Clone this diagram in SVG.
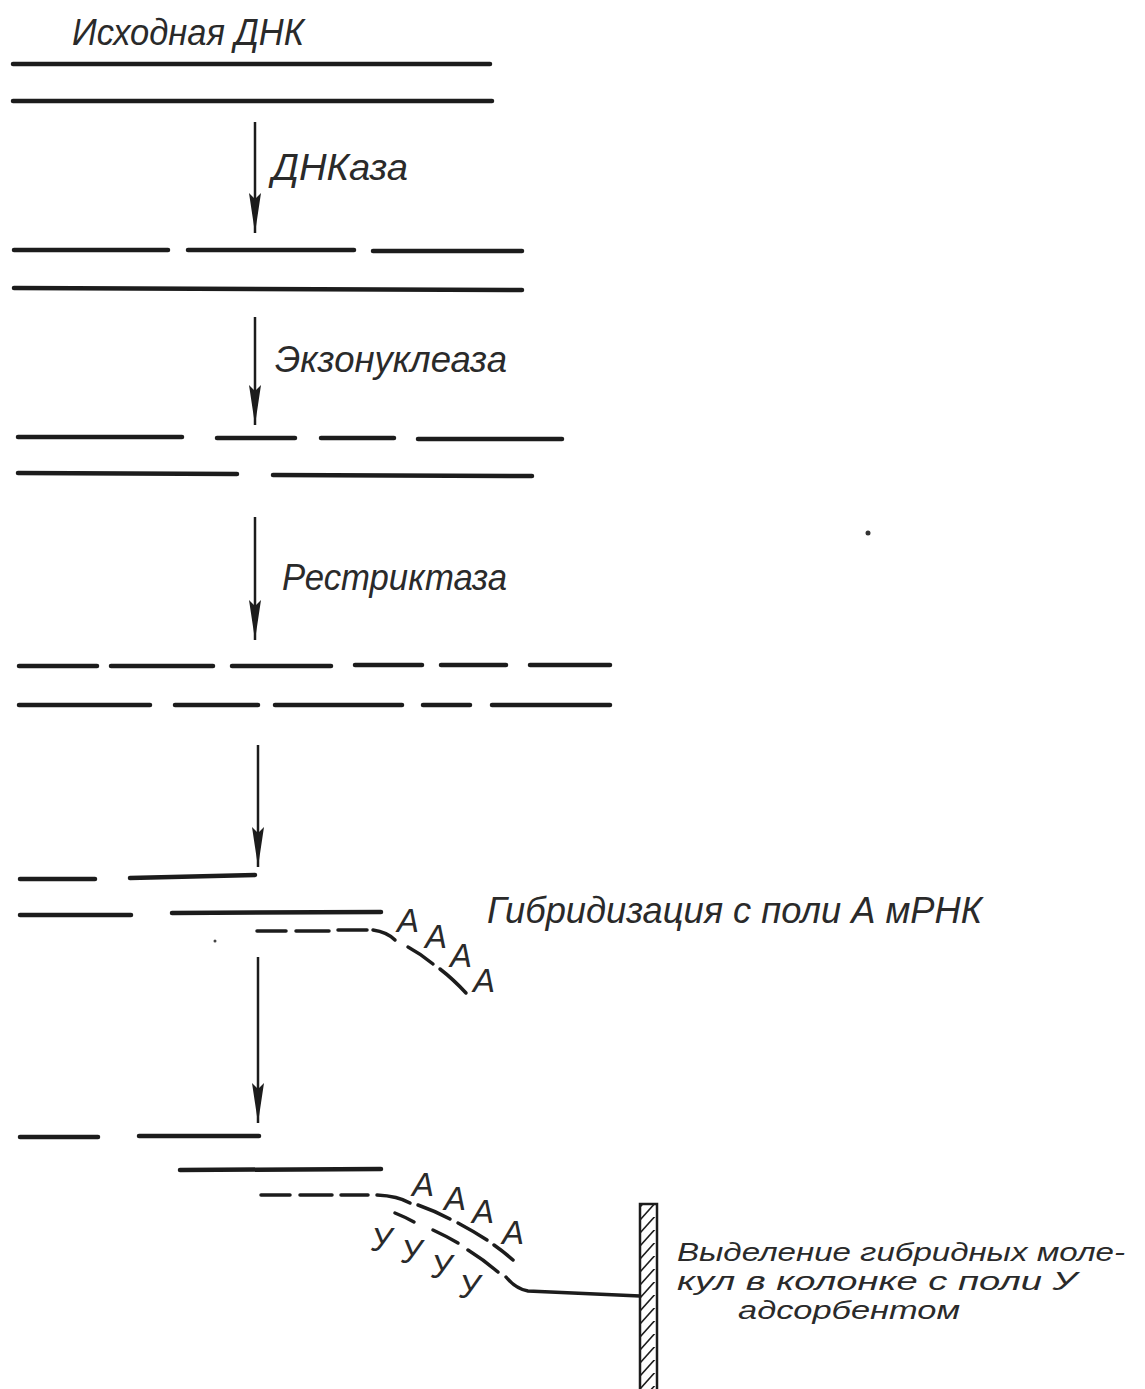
<svg xmlns="http://www.w3.org/2000/svg" width="1145" height="1389" viewBox="0 0 1145 1389">
<defs>
<style>
.dna{stroke:#1c1c1c;stroke-width:4.5;stroke-linecap:round;fill:none}
.rna{stroke:#1c1c1c;stroke-width:3.5;stroke-linecap:round;fill:none}
.arr{stroke:#1c1c1c;stroke-width:2.5;fill:none}
.lbl{font-family:"Liberation Sans","DejaVu Sans",sans-serif;font-style:italic;font-size:36px;fill:#2a2a2a}
.lbl2{font-family:"Liberation Sans","DejaVu Sans",sans-serif;font-style:italic;font-size:26px;fill:#2a2a2a}
.base{font-family:"Liberation Sans","DejaVu Sans",sans-serif;font-style:italic;font-size:33px;fill:#2a2a2a}
.hatch{stroke:#1c1c1c;stroke-width:1.6}
</style>
<marker id="ah" viewBox="0 0 40 12" markerWidth="40" markerHeight="12" markerUnits="userSpaceOnUse" refX="40" refY="6" orient="auto">
<path d="M0,0 L40,6 L0,12 L6,6 Z" fill="#1c1c1c"/>
</marker>
<pattern id="hp" patternUnits="userSpaceOnUse" width="17" height="13" x="640" y="1204">
<line class="hatch" x1="0" y1="16" x2="17" y2="-3"/>
<line class="hatch" x1="0" y1="3" x2="17" y2="-16"/>
</pattern>
</defs>
<rect width="1145" height="1389" fill="#ffffff"/>

<g id="connectors">
<line class="arr" x1="255" y1="122" x2="255" y2="233" marker-end="url(#ah)"/>
<line class="arr" x1="255" y1="317" x2="255" y2="425" marker-end="url(#ah)"/>
<line class="arr" x1="255" y1="517" x2="255" y2="640" marker-end="url(#ah)"/>
<line class="arr" x1="258" y1="745" x2="258" y2="867" marker-end="url(#ah)"/>
<line class="arr" x1="258" y1="957" x2="258" y2="1123" marker-end="url(#ah)"/>
</g>

<g id="label-dnase"><text class="lbl" x="272" y="180" textLength="136" lengthAdjust="spacingAndGlyphs">ДНКаза</text></g>
<g id="label-exo"><text class="lbl" x="275" y="372" textLength="232" lengthAdjust="spacingAndGlyphs">Экзонуклеаза</text></g>
<g id="label-restr"><text class="lbl" x="282" y="590" textLength="225" lengthAdjust="spacingAndGlyphs">Рестриктаза</text></g>

<g id="stage1-original-dna">
<text class="lbl" x="72" y="45" textLength="232" lengthAdjust="spacingAndGlyphs">Исходная ДНК</text>
<line class="dna" x1="13" y1="64" x2="490" y2="64"/>
<line class="dna" x1="13" y1="101" x2="492" y2="101"/>
</g>

<g id="stage2-dnase">
<line class="dna" x1="14" y1="250" x2="168" y2="250"/>
<line class="dna" x1="188" y1="250" x2="354" y2="250"/>
<line class="dna" x1="373" y1="251" x2="522" y2="251"/>
<line class="dna" x1="14" y1="288" x2="522" y2="290"/>
</g>

<g id="stage3-exonuclease">
<line class="dna" x1="18" y1="437" x2="182" y2="437"/>
<line class="dna" x1="217" y1="438" x2="295" y2="438"/>
<line class="dna" x1="321" y1="438" x2="394" y2="438"/>
<line class="dna" x1="418" y1="439" x2="562" y2="439"/>
<line class="dna" x1="18" y1="473" x2="237" y2="474"/>
<line class="dna" x1="273" y1="475" x2="532" y2="476"/>
</g>

<g id="stage4-restriction">
<line class="dna" x1="19" y1="666" x2="97" y2="666"/>
<line class="dna" x1="111" y1="666" x2="213" y2="666"/>
<line class="dna" x1="232" y1="666" x2="331" y2="666"/>
<line class="dna" x1="355" y1="665" x2="422" y2="665"/>
<line class="dna" x1="441" y1="665" x2="506" y2="665"/>
<line class="dna" x1="530" y1="665" x2="610" y2="665"/>
<line class="dna" x1="19" y1="705" x2="150" y2="705"/>
<line class="dna" x1="175" y1="705" x2="258" y2="705"/>
<line class="dna" x1="275" y1="705" x2="402" y2="705"/>
<line class="dna" x1="423" y1="705" x2="470" y2="705"/>
<line class="dna" x1="492" y1="705" x2="610" y2="705"/>
</g>

<g id="stage5-hybridization">
<line class="dna" x1="20" y1="879" x2="95" y2="879"/>
<line class="dna" x1="130" y1="878" x2="255" y2="875"/>
<line class="dna" x1="20" y1="915" x2="131" y2="915"/>
<line class="dna" x1="172" y1="913" x2="381" y2="912"/>
<line class="rna" x1="257" y1="931" x2="286" y2="931"/>
<line class="rna" x1="296" y1="931" x2="329" y2="931"/>
<line class="rna" x1="338" y1="930" x2="367" y2="930"/>
<path class="rna" d="M373,930 Q387,932 395,940"/>
<path class="rna" d="M408,947 Q421,954 433,964"/>
<path class="rna" d="M440,969 Q453,979 466,993"/>
<text class="base" x="397" y="932">A</text>
<text class="base" x="425" y="948">A</text>
<text class="base" x="450" y="967">A</text>
<text class="base" x="473" y="992">A</text>
<circle cx="215" cy="941" r="1.5" fill="#444"/>
<text class="lbl" x="487" y="923" textLength="495" lengthAdjust="spacingAndGlyphs">Гибридизация с поли А мРНК</text>
</g>

<g id="stage6-isolation">
<line class="dna" x1="20" y1="1137" x2="98" y2="1137"/>
<line class="dna" x1="139" y1="1136" x2="259" y2="1136"/>
<line class="dna" x1="180" y1="1170" x2="381" y2="1169"/>
<line class="rna" x1="261" y1="1195" x2="290" y2="1195"/>
<line class="rna" x1="300" y1="1195" x2="332" y2="1195"/>
<line class="rna" x1="341" y1="1195" x2="368" y2="1195"/>
<path class="rna" d="M377,1195 Q398,1196 410,1203"/>
<path class="rna" d="M418,1205 Q435,1211 450,1219"/>
<path class="rna" d="M458,1223 Q473,1231 487,1240"/>
<path class="rna" d="M494,1245 Q504,1252 513,1260"/>
<path class="rna" d="M395,1213 Q405,1217 414,1222"/>
<path class="rna" d="M433,1230 Q446,1236 458,1243"/>
<path class="rna" d="M468,1250 Q484,1260 498,1272"/>
<path class="rna" d="M506,1277 Q516,1289 528,1291 L640,1296"/>
<text class="base" x="412" y="1196">A</text>
<text class="base" x="444" y="1210">A</text>
<text class="base" x="472" y="1223">A</text>
<text class="base" x="502" y="1244">A</text>
<text class="base" x="371" y="1251">У</text>
<text class="base" x="401" y="1263">У</text>
<text class="base" x="431" y="1278">У</text>
<text class="base" x="459" y="1298">У</text>
</g>

<g id="column">
<rect x="640" y="1204" width="17" height="195" fill="url(#hp)" stroke="#1c1c1c" stroke-width="2.5"/>
</g>

<g id="label-column">
<text class="lbl2" x="677" y="1261" textLength="448" lengthAdjust="spacingAndGlyphs">Выделение гибридных моле-</text>
<text class="lbl2" x="677" y="1290" textLength="400" lengthAdjust="spacingAndGlyphs">кул в колонке с поли У</text>
<text class="lbl2" x="738" y="1319" textLength="222" lengthAdjust="spacingAndGlyphs">адсорбентом</text>
</g>

<circle cx="868" cy="533" r="2.5" fill="#333"/>
</svg>
